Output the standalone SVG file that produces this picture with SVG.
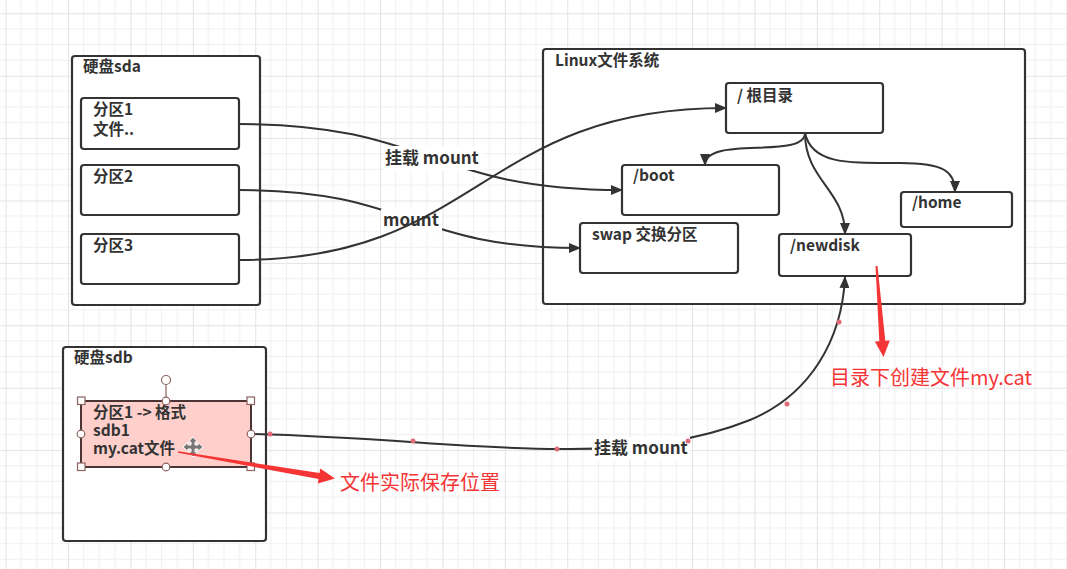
<svg xmlns="http://www.w3.org/2000/svg" width="1067" height="569" viewBox="0 0 1067 569">
<defs>
<pattern id="grid" x="5.6" y="13.3" width="62.4" height="62.4" patternUnits="userSpaceOnUse">
<path d="M15.6 0V62.4M31.2 0V62.4M46.8 0V62.4M0 15.6H62.4M0 31.2H62.4M0 46.8H62.4" stroke="#f0f0f0" stroke-width="1" fill="none"/>
<path d="M0.5 0V62.4M0 0.5H62.4" stroke="#e3e3e3" stroke-width="1" fill="none"/>
</pattern>
<marker id="arr" viewBox="0 0 12 10" refX="11" refY="5" markerWidth="12" markerHeight="10" markerUnits="userSpaceOnUse" orient="auto">
<path d="M0 0L12 5L0 10z" fill="#333"/>
</marker>
<style>
.box{fill:#fff;stroke:#333;stroke-width:2.2}
.t{font-family:"Noto Sans CJK SC","Microsoft YaHei",sans-serif;font-weight:bold;font-size:15.5px;fill:#333}
.lbl{font-family:"Noto Sans CJK SC","Microsoft YaHei",sans-serif;font-weight:bold;font-size:17px;fill:#333}
.con{fill:none;stroke:#333;stroke-width:2}
.red{fill:#f53535}
.rt{font-family:"Noto Sans CJK SC","Microsoft YaHei",sans-serif;font-size:20px;fill:#f53535}
.hs{fill:#fff;stroke:#8a6262;stroke-width:1.2}
.dot{fill:#e06a78}
</style>
</defs>
<rect width="1067" height="569" fill="#fff"/>
<rect width="1067" height="569" fill="url(#grid)"/>

<g id="sda">
<rect class="box" x="72" y="56" width="188" height="249" rx="3"/>
<text class="t" x="83" y="72">硬盘sda</text>
</g>
<g id="sda1">
<rect class="box" x="81" y="98" width="158" height="51" rx="3"/>
<text class="t" x="93" y="115">分区1</text>
<text class="t" x="93" y="135">文件..</text>
</g>
<g id="sda2">
<rect class="box" x="81" y="165" width="158" height="50" rx="3"/>
<text class="t" x="93" y="182">分区2</text>
</g>
<g id="sda3">
<rect class="box" x="81" y="234" width="158" height="50" rx="3"/>
<text class="t" x="93" y="251">分区3</text>
</g>

<g id="linux">
<rect class="box" x="543" y="49" width="482" height="255" rx="3"/>
<text class="t" x="555" y="66">Linux文件系统</text>
</g>
<g id="root">
<rect class="box" x="726" y="83" width="157" height="50" rx="3"/>
<text class="t" x="737" y="101">/ 根目录</text>
</g>
<g id="boot">
<rect class="box" x="622" y="165" width="157" height="50" rx="3"/>
<text class="t" x="633" y="181">/boot</text>
</g>
<g id="home">
<rect class="box" x="901" y="192" width="111" height="35" rx="3"/>
<text class="t" x="912" y="208">/home</text>
</g>
<g id="swap">
<rect class="box" x="580" y="223" width="158" height="50" rx="3"/>
<text class="t" x="592" y="240">swap 交换分区</text>
</g>
<g id="newdisk">
<rect class="box" x="779" y="234" width="132" height="42" rx="3"/>
<text class="t" x="790" y="251">/newdisk</text>
</g>

<g id="sdb">
<rect class="box" x="63" y="347" width="203" height="194" rx="3"/>
<text class="t" x="74" y="363">硬盘sdb</text>
</g>
<g id="sdb1">
<rect x="81" y="401" width="170" height="66" fill="#ffd0cb" stroke="#4a3434" stroke-width="2"/>
<text class="t" x="93" y="418">分区1 -&gt; 格式</text>
<text class="t" x="93" y="436">sdb1</text>
<text class="t" x="93" y="454">my.cat文件</text>
</g>

<g id="connectors">
<g id="c1">
<path class="con" d="M239 124C430 124 430 190 622 190" marker-end="url(#arr)"/>
<rect x="383" y="146" width="100" height="24" fill="#fff"/>
<text class="lbl" x="385" y="164">挂载 mount</text>
</g>
<g id="c2">
<path class="con" d="M239 190C410 190 410 248 580 248" marker-end="url(#arr)"/>
<rect x="381" y="209" width="61" height="23" fill="#fff"/>
<text class="lbl" x="383" y="226">mount</text>
</g>
<path id="c3" class="con" d="M239 260C480 260 480 108 726 108" marker-end="url(#arr)"/>
<path id="c4" class="con" d="M805 133C805 160 705 135 705 165" marker-end="url(#arr)"/>
<path id="c5" class="con" d="M805 133C805 180 845 190 845 234" marker-end="url(#arr)"/>
<path id="c6" class="con" d="M805 133C812 165 850 163 900 163C945 163 955 172 955 192" marker-end="url(#arr)"/>
<g id="c7">
<path class="con" d="M251 434C380 437 470 449 560 449C640 450 700 440 750 420C810 395 842 340 845 277" marker-end="url(#arr)"/>
<rect x="592" y="437" width="98" height="23" fill="#fff"/>
<text class="lbl" x="594" y="454">挂载 mount</text>
<circle class="dot" cx="270" cy="434" r="2.5"/>
<circle class="dot" cx="413" cy="441" r="2.5"/>
<circle class="dot" cx="557" cy="449" r="2.5"/>
<circle class="dot" cx="688" cy="441" r="2.5"/>
<circle class="dot" cx="787" cy="404" r="2.5"/>
<circle class="dot" cx="839" cy="322" r="2.5"/>
</g>
</g>

<g id="selection">
<line x1="166" y1="384.5" x2="166" y2="397" stroke="#8a6262" stroke-width="1.2"/>
<circle class="hs" cx="166" cy="380" r="4.5"/>
<rect class="hs" x="77.5" y="397" width="7.5" height="7.5"/>
<rect class="hs" x="247" y="397" width="7.5" height="7.5"/>
<rect class="hs" x="77.5" y="463" width="7.5" height="7.5"/>
<rect class="hs" x="247" y="463" width="7.5" height="7.5"/>
<circle class="hs" cx="166" cy="401" r="3.8"/>
<circle class="hs" cx="166" cy="467" r="3.8"/>
<circle class="hs" cx="81" cy="434" r="3.8"/>
<circle class="hs" cx="251" cy="434" r="3.8"/>
<path d="M193 437L197.5 442H195V445H198V442.5L203 447L198 451.5V449H195V452H197.5L193 457L188.5 452H191V449H188V451.5L183 447L188 442.5V445H191V442H188.5Z" fill="#777" stroke="#fff" stroke-width="1"/>
</g>

<g id="notes">
<polygon class="red" points="875.5,266.1 877.5,265.9 885.3,340.8 889.8,340.4 883.5,357 874.8,341.6 879.3,341.2"/>
<text class="rt" x="830" y="385">目录下创建文件my.cat</text>
<polygon class="red" points="178.13,451.21 319.49,473.04 320.26,468.4 335,478.6 317.74,483.6 318.51,478.96 177.87,452.79"/>
<text class="rt" x="340" y="490">文件实际保存位置</text>
</g>
</svg>
